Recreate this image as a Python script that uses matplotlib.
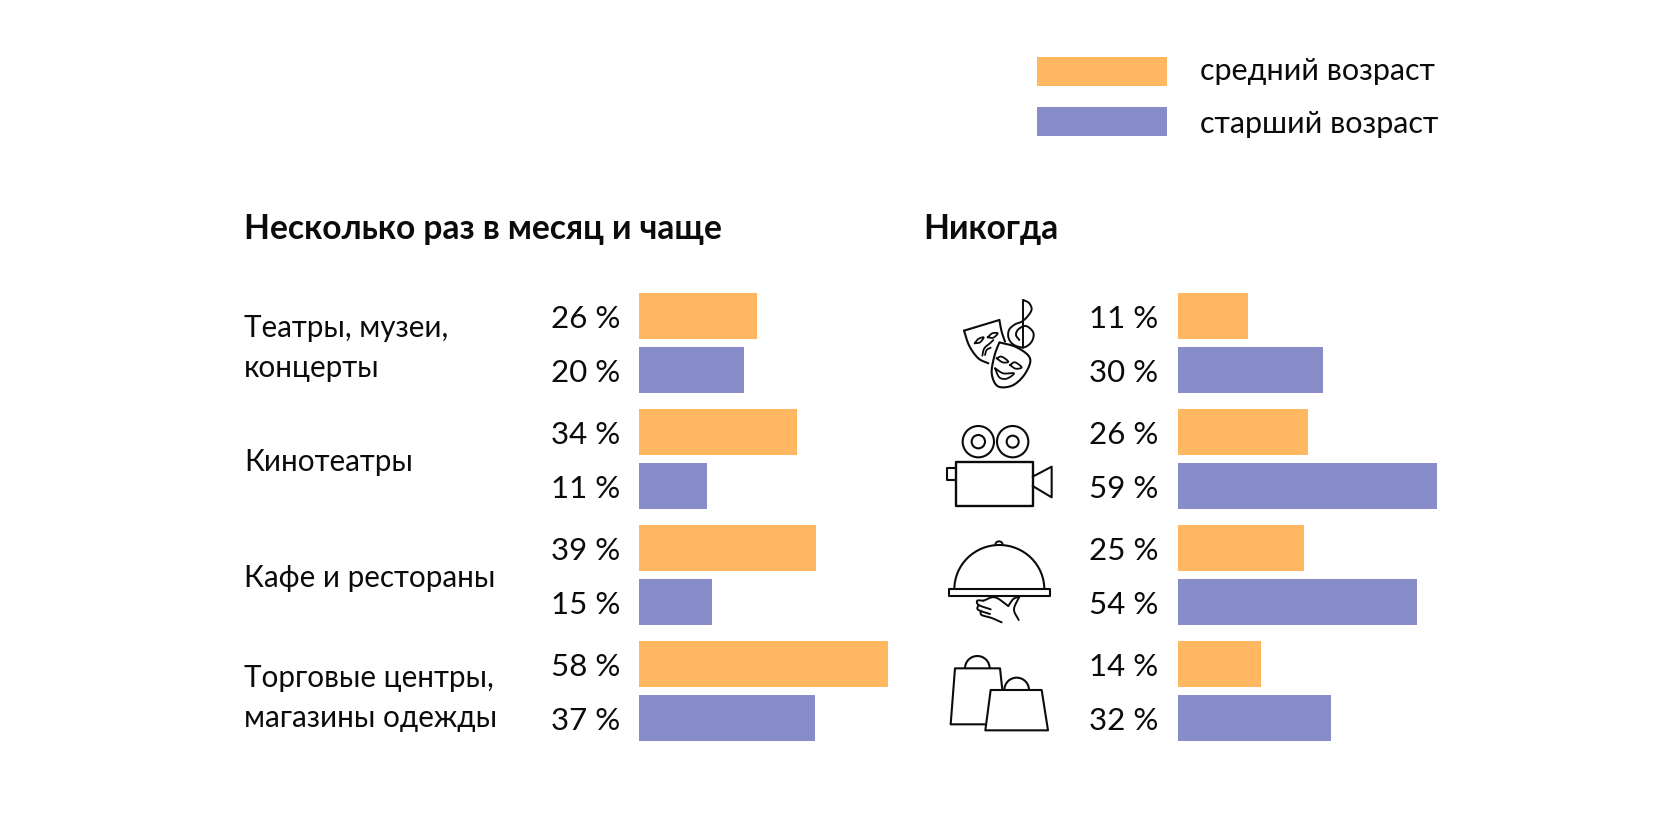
import numpy as np
import matplotlib
matplotlib.use("Agg")
import matplotlib.pyplot as plt
from matplotlib.patches import Rectangle, Circle, Arc, Polygon

plt.rcParams['font.family'] = ['Lato', 'Noto Sans', 'DejaVu Sans']

W, H = 1680, 816
categories = ["Театры, музеи,\nконцерты", "Кинотеатры", "Кафе и рестораны", "Торговые центры,\nмагазины одежды"]
series_names = ["средний возраст", "старший возраст"]
title_left = "Несколько раз в месяц и чаще"
title_right = "Никогда"

# printed labels
often_mid = [26, 34, 39, 58]
often_old = [20, 11, 15, 37]
never_mid = [11, 26, 25, 14]
never_old = [30, 59, 54, 32]
# bar lengths as drawn in the picture (the source's bars are not proportional to the labels)
often_mid_len = [27.6, 36.8, 41.3, 58.0]
often_old_len = [24.4, 15.9, 17.1, 40.9]
never_mid_len = [16.1, 29.6, 28.8, 19.0]
never_old_len = [33.1, 59.0, 54.5, 34.9]

ORANGE = "#FFB762"
PURPLE = "#888CC9"
INK = "#0B0B0B"

fig = plt.figure(figsize=(W / 100, H / 100), dpi=100, facecolor="white")

def axes_px(x0, x1, y0, y1, **kw):
    return fig.add_axes([x0 / W, 1 - y1 / H, (x1 - x0) / W, (y1 - y0) / H], **kw)

# overlay in pixel coordinates for text and icons
ov = axes_px(0, W, 0, H)
ov.set_xlim(0, W); ov.set_ylim(H, 0); ov.axis("off")

TOP, BOTTOM = 292.5, 741.0
PITCH = 116.2
BAR_H = 46.0 / PITCH
OLD_OFF = 54.0 / PITCH
ylim = (BOTTOM - TOP) / PITCH
LAB_FS = 22.5
CAT_FS = 21.3

def panel(x0, x1, xmax, mid, old, mid_lab, old_lab, lab_x):
    ax = axes_px(x0, x1, TOP, BOTTOM)
    ax.set_xlim(0, xmax); ax.set_ylim(ylim, 0); ax.axis("off")
    ys = np.arange(4) + BAR_H / 2
    ax.barh(ys, mid, height=BAR_H, color=ORANGE, linewidth=0)
    ax.barh(ys + OLD_OFF, old, height=BAR_H, color=PURPLE, linewidth=0)
    for y, a, b in zip(ys, mid_lab, old_lab):
        for yy, v in ((y, a), (y + OLD_OFF, b)):
            py = TOP + yy * PITCH + 0.5
            ov.text(lab_x, py, f"{v} %", ha="left", va="center_baseline", fontsize=LAB_FS, color=INK)

panel(639, 888, 58, often_mid_len, often_old_len, often_mid, often_old, 551)
panel(1177.5, 1437, 59, never_mid_len, never_old_len, never_mid, never_old, 1089)

# titles
ov.text(244, 226, title_left, fontsize=24.2, fontweight="bold", color=INK, va="center_baseline")
ov.text(923, 226, title_right, fontsize=24.2, fontweight="bold", color=INK, va="center_baseline")

# category labels
cat_y = [[325, 366], [459], [576], [676, 715]]
for cat, ys in zip(categories, cat_y):
    for line, y in zip(cat.split("\n"), ys):
        ov.text(244, y, line, fontsize=CAT_FS, color=INK, va="center_baseline")

# legend
for name, col, y0, ty in zip(series_names, [ORANGE, PURPLE], [56.7, 106.7], [68.5, 121.5]):
    ov.add_patch(Rectangle((1037, y0), 130, 29, color=col, lw=0))
    ov.text(1200, ty, name, fontsize=22.0, color=INK, va="center_baseline")

# ---- icons (pixel coordinates derived from crops) ----
def spline(pts, n=14):
    p = np.array(pts, float)
    p = np.vstack([2 * p[0] - p[1], p, 2 * p[-1] - p[-2]])
    out = []
    for i in range(1, len(p) - 2):
        for t in np.linspace(0, 1, n, endpoint=False):
            a, b, c, d = p[i - 1], p[i], p[i + 1], p[i + 2]
            out.append(0.5 * (2 * b + (c - a) * t + (2 * a - 5 * b + 4 * c - d) * t ** 2 + (3 * b - a - 3 * c + d) * t ** 3))
    out.append(p[-2])
    return np.array(out)

def tr(ox, oy, pts):
    a = np.array(pts, float) / 3
    return a + [ox, oy]

def curve(ox, oy, pts, lw=1.4, smooth=True, close=False, fc=None, z=3):
    a = tr(ox, oy, pts)
    if smooth:
        a = spline(a)
    if close or fc:
        ov.add_patch(Polygon(a, closed=True, fc=fc or "none", ec=INK, lw=lw, zorder=z, joinstyle="round"))
    else:
        ov.plot(a[:, 0], a[:, 1], color=INK, lw=lw, zorder=z, solid_capstyle="round", solid_joinstyle="round")

# masks + clef
o = (950, 290)
curve(*o, [(220, 175), (220, 30)], smooth=False, z=2)
curve(*o, [(220, 30), (238, 40), (244, 62), (220, 92), (195, 103), (177, 120), (176, 145), (192, 165), (222, 172), (245, 155), (250, 128), (228, 108), (205, 118), (198, 135), (208, 150)], z=2)
curve(*o, [(42, 122), (148, 90)], lw=1.5, smooth=False, z=3)
curve(*o, [(42, 122), (58, 168), (85, 205), (115, 220)], lw=1.5)
curve(*o, [(148, 90), (155, 125), (165, 155)], lw=1.5)
curve(*o, [(74, 160), (85, 147), (101, 142), (90, 157), (74, 160)], lw=1.3)
curve(*o, [(113, 142), (127, 130), (143, 130), (130, 143), (113, 142)], lw=1.3)
curve(*o, [(97, 197), (103, 175), (122, 158), (130, 150)], lw=1.3)
curve(*o, [(105, 195), (110, 180), (122, 173)], lw=1.3)
curve(*o, [(148, 157), (200, 172), (240, 205), (226, 250), (192, 284), (155, 292), (135, 280), (125, 245), (134, 195), (148, 157)], lw=1.5, fc="white", z=4)
curve(*o, [(140, 205), (155, 200), (175, 215), (158, 217), (140, 205)], lw=1.3, z=5)
curve(*o, [(180, 225), (195, 217), (215, 232), (197, 236), (180, 225)], lw=1.3, z=5)
curve(*o, [(135, 235), (160, 250), (192, 250), (170, 266), (148, 262), (135, 235)], lw=1.3, z=5)

# camera
o = (940, 415)
for cx, r2 in ((115, 20), (218, 18)):
    c = tr(*o, [(cx, 80)])[0]
    ov.add_patch(Circle(c, 47 / 3, fc="none", ec=INK, lw=1.5))
    ov.add_patch(Circle(c, r2 / 3, fc="none", ec=INK, lw=1.5))
curve(*o, [(47, 140), (278, 140), (278, 272), (47, 272)], lw=1.7, smooth=False, close=True)
curve(*o, [(47, 158), (20, 158), (20, 195), (47, 195)], lw=1.5, smooth=False)
curve(*o, [(278, 185), (335, 155), (335, 247), (278, 213)], lw=1.5, smooth=False)

# cloche
o = (940, 530)
c = tr(*o, [(178, 178)])[0]
ov.add_patch(Arc(c, 270 / 3, 2 * 133 / 3, theta1=180, theta2=360, ec=INK, lw=1.5, zorder=3))
c = tr(*o, [(177, 44)])[0]
ov.add_patch(Arc(c, 22 / 3, 20 / 3, theta1=180, theta2=360, ec=INK, lw=1.4, zorder=3))
curve(*o, [(27, 178), (330, 178), (330, 198), (27, 198)], lw=1.5, smooth=False, close=True)
curve(*o, [(238, 200), (222, 238), (236, 270)], lw=1.4)
curve(*o, [(238, 200), (220, 207), (205, 228)], lw=1.4)
curve(*o, [(130, 212), (165, 202), (205, 228)], lw=1.4)
curve(*o, [(130, 212), (112, 212), (116, 225), (152, 238)], lw=1.4)
curve(*o, [(116, 225), (112, 236), (122, 243), (150, 252)], lw=1.4)
curve(*o, [(122, 243), (125, 255), (155, 264), (185, 277)], lw=1.4)

# bags
o = (940, 645)
curve(*o, [(138, 238), (32, 238), (45, 70), (180, 70), (187, 135)], lw=1.5, smooth=False)
curve(*o, [(152, 135), (305, 135), (324, 256), (136, 256)], lw=1.5, smooth=False, close=True)
for cx, cy in ((112, 70), (230, 135)):
    c = tr(*o, [(cx, cy)])[0]
    ov.add_patch(Arc(c, 74 / 3, 74 / 3, theta1=180, theta2=360, ec=INK, lw=1.5))

fig.savefig("out.png", dpi=100, facecolor="white")
